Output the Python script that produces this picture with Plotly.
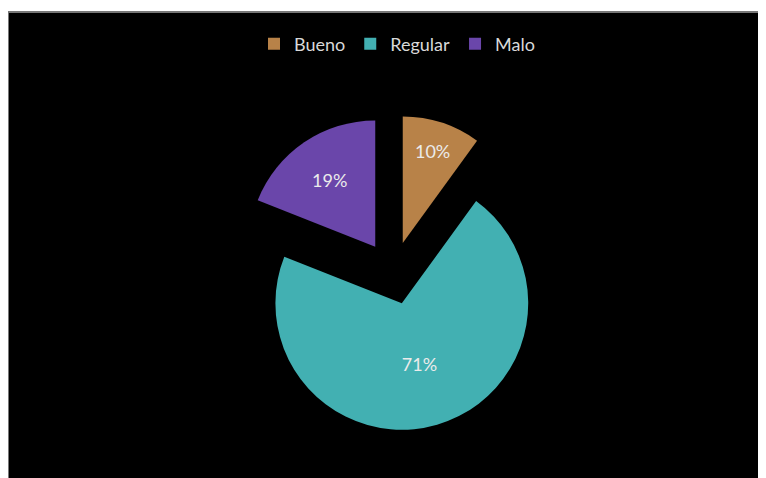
import plotly.graph_objects as go

labels = ['Bueno', 'Regular', 'Malo']
values = [10, 71, 19]
colors = ['rgb(184,130,72)', 'rgb(66,176,178)', 'rgb(106,70,170)']

W, H = 766, 478
# page body adds an 8px offset, so positions below are in figure pixels
cx, cy, half = 385, 265, 158

fig = go.Figure()

fig.add_trace(go.Pie(
    labels=labels,
    values=values,
    marker=dict(colors=colors, line=dict(width=0)),
    sort=False,
    direction='clockwise',
    rotation=0,
    pull=[0.25, 0.25, 0.25],
    textinfo='percent',
    textposition='inside',
    insidetextorientation='horizontal',
    textfont=dict(family='Lato', size=18, color='rgb(235,235,235)'),
    domain=dict(x=[(cx - half) / W, (cx + half) / W],
                y=[(H - cy - half) / H, (H - cy + half) / H]),
    hoverinfo='label+percent',
))

# white strip on top with gray frame around the black chart area
fig.add_shape(type='rect', xref='paper', yref='paper',
              x0=0, x1=1.05, y0=-0.05, y1=(H - 4) / H,
              fillcolor='black', line=dict(color='rgb(120,120,120)', width=2),
              layer='below')

fig.update_layout(
    width=W, height=H,
    margin=dict(l=0, r=0, t=0, b=0),
    paper_bgcolor='white',
    plot_bgcolor='black',
    showlegend=True,
    legend=dict(
        orientation='h',
        x=389 / W, xanchor='center',
        y=(H - 36) / H, yanchor='middle',
        font=dict(family='Lato', size=18, color='rgb(217,217,217)'),
        bgcolor='rgba(0,0,0,0)',
        itemwidth=30,
    ),
)

fig.write_html('out.html')
